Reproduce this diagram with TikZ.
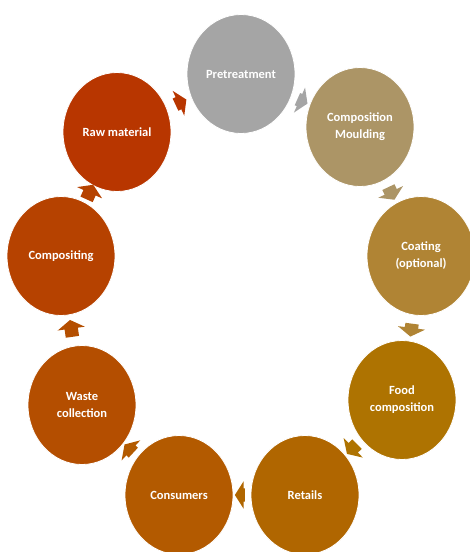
\documentclass[tikz,border=0pt]{standalone}
\usepackage{fontspec}
\setmainfont{Carlito}
\usetikzlibrary{shapes.geometric,shapes.arrows,calc}

% stage colours, running round the cycle
\definecolor{cPre}{HTML}{A5A5A5}
\definecolor{cMould}{HTML}{AC9566}
\definecolor{cCoat}{HTML}{B08434}
\definecolor{cFood}{HTML}{AE7301}
\definecolor{cRetail}{HTML}{B06600}
\definecolor{cCons}{HTML}{B35A00}
\definecolor{cWaste}{HTML}{B44E00}
\definecolor{cCompost}{HTML}{B64200}
\definecolor{cRaw}{HTML}{B83600}

\begin{document}
\begin{tikzpicture}[x=1pt,y=-1pt,
  stage/.style={ellipse, minimum width=108pt, minimum height=119pt,
    draw=white, line width=0.8pt, inner sep=0pt, align=center,
    text=white, font=\fontsize{12.5}{17}\selectfont\bfseries},
  cycarrow/.style={single arrow, single arrow tip angle=115,
    single arrow head extend=7pt, inner xsep=0pt, inner ysep=6.5pt,
    minimum width=27pt, draw=none, sloped, allow upside down}
]
\useasboundingbox (0,0) rectangle (470,552);
\clip (0,0) rectangle (470,552);

% the nine stages
\node[stage, fill=cPre]     (pre)     at (241,74)  {Pretreatment};
\node[stage, fill=cMould]   (mould)   at (360,127) {Composition\\Moulding};
\node[stage, fill=cCoat]    (coat)    at (421,256) {Coating\\(optional)};
\node[stage, fill=cFood]    (food)    at (402,400) {Food\\composition};
\node[stage, fill=cRetail]  (retail)  at (305,495) {Retails};
\node[stage, fill=cCons]    (cons)    at (179,495) {Consumers};
\node[stage, fill=cWaste]   (waste)   at (82,405)  {Waste\\collection};
\node[stage, fill=cCompost] (compost) at (61,256)  {Compositing};
\node[stage, fill=cRaw]     (raw)     at (117,132) {Raw material};

% arrows between neighbouring stages
\path (raw.center)     -- node[cycarrow, fill=cRaw,     minimum height=12pt] {} (pre.center);
\path (pre.center)     -- node[cycarrow, fill=cPre,     minimum height=11pt] {} (mould.center);
\path (mould.center)   -- node[cycarrow, fill=cMould,   minimum height=14pt] {} (coat.center);
\path (coat.center)    -- node[cycarrow, fill=cCoat,    minimum height=13pt] {} (food.center);
\path (food.center)    -- node[cycarrow, fill=cFood,    minimum height=14pt] {} (retail.center);
\path (retail.center)  -- node[cycarrow, fill=cRetail,  minimum height=10pt] {} (cons.center);
\path (cons.center)    -- node[cycarrow, fill=cCons,    minimum height=12pt] {} (waste.center);
\path (waste.center)   -- node[cycarrow, fill=cWaste,   minimum height=17pt] {} (compost.center);
\path (compost.center) -- node[cycarrow, fill=cCompost, minimum height=16pt] {} (raw.center);
\end{tikzpicture}
\end{document}
